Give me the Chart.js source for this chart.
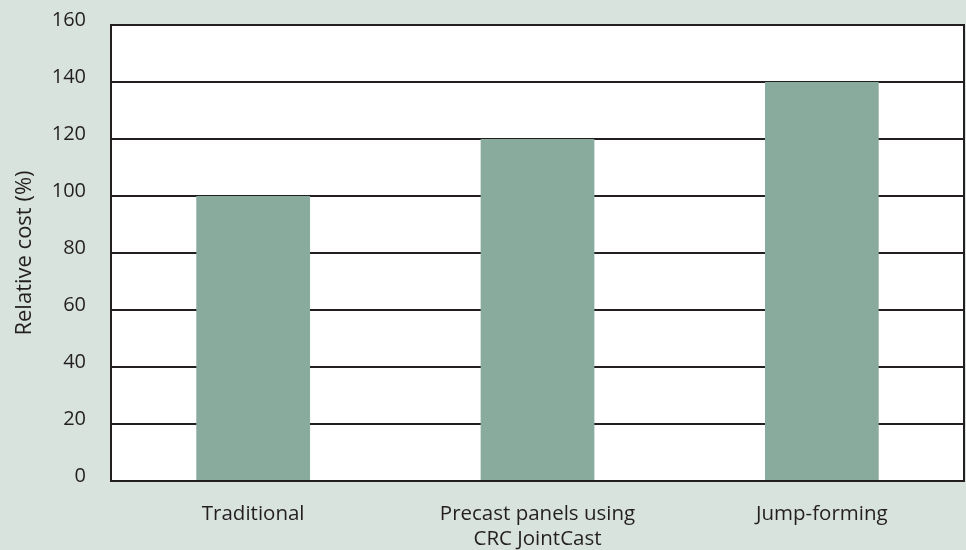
<!DOCTYPE html>
<html>
<head>
<meta charset="utf-8">
<script src="https://cdn.jsdelivr.net/npm/chart.js@4.4.0/dist/chart.umd.min.js"></script>
<style>
  html, body { margin: 0; padding: 0; background: #d9e3de; }
  #wrap { width: 966px; height: 550px; }
</style>
</head>
<body>
<div id="wrap"><canvas id="chart" width="966" height="550"></canvas></div>
<script>
// data
const categories = ["Traditional", ["Precast panels using", "CRC JointCast"], "Jump-forming"];
const relativeCost = [100, 120, 140];
const yTicks = [0, 20, 40, 60, 80, 100, 120, 140, 160];

const lineColor = "#231f20";

// white plot area + box round it
const plotBox = {
  id: "plotBox",
  beforeDraw(chart) {
    const { ctx, chartArea: a } = chart;
    ctx.save();
    ctx.fillStyle = "#d9e3de";
    ctx.fillRect(0, 0, chart.width, chart.height);
    ctx.fillStyle = "#ffffff";
    ctx.fillRect(a.left, a.top, a.right - a.left, a.bottom - a.top);
    ctx.restore();
  },
  afterDraw(chart) {
    const { ctx, chartArea: a } = chart;
    ctx.save();
    ctx.strokeStyle = lineColor;
    ctx.lineWidth = 2;
    ctx.strokeRect(a.left, a.top, a.right - a.left, a.bottom - a.top);
    ctx.restore();
  }
};

Chart.defaults.font.family = "'Open Sans', sans-serif";
Chart.defaults.font.size = 20;
Chart.defaults.color = lineColor;

new Chart(document.getElementById("chart"), {
  type: "bar",
  data: {
    labels: categories,
    datasets: [{
      label: "Relative cost (%)",
      data: relativeCost,
      backgroundColor: "#88ab9e",
      categoryPercentage: 1,
      barPercentage: 0.4
    }]
  },
  options: {
    responsive: false,
    animation: false,
    layout: { padding: { top: 25, right: 2, left: 12, bottom: 0 } },
    plugins: { legend: { display: false }, tooltip: { enabled: false } },
    scales: {
      x: {
        grid: { display: false, drawTicks: false },
        border: { display: false },
        ticks: { font: { size: 20.5, lineHeight: 1.22 }, padding: 21, maxRotation: 0 },
        afterFit(axis) { axis.height = 69; axis.paddingLeft = 0; axis.paddingRight = 0; }
      },
      y: {
        min: 0,
        max: 160,
        afterBuildTicks(axis) { axis.ticks = yTicks.map(v => ({ value: v })); },
        grid: { color: lineColor, lineWidth: 2, drawTicks: false },
        border: { display: false },
        ticks: { font: { size: 20 }, padding: 25, labelOffset: -5 },
        title: { display: true, text: "Relative cost (%)", font: { size: 22 }, padding: { top: 0, bottom: 0 } },
        afterFit(axis) { axis.width = 99; axis.paddingTop = 0; axis.paddingBottom = 0; }
      }
    }
  },
  plugins: [plotBox]
});
</script>
</body>
</html>
